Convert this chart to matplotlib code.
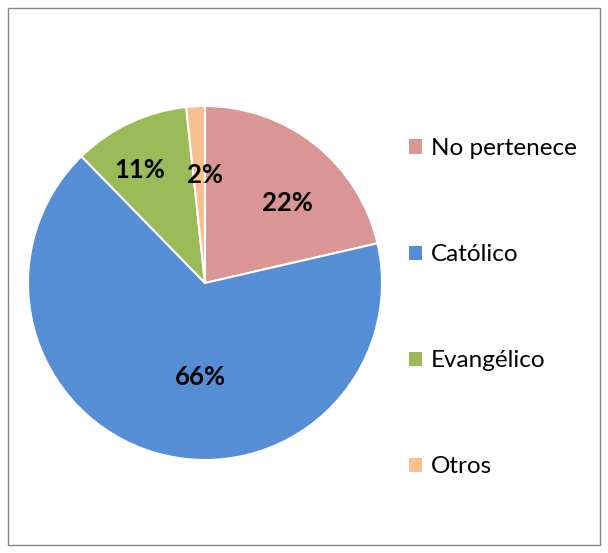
import matplotlib.pyplot as plt
import numpy as np
from matplotlib.patches import Rectangle, Patch

labels = ['No pertenece', 'Católico', 'Evangélico', 'Otros']
values = [21.4, 66.3, 10.6, 1.7]
pct_text = ['22%', '66%', '11%', '2%']
colors = ['#D99694', '#558ED5', '#9BBB59', '#FAC090']

plt.rcParams['font.family'] = ['Lato', 'DejaVu Sans']

fig = plt.figure(figsize=(6.08, 5.53), dpi=100)
fig.patches.append(Rectangle((8 / 608, 8 / 553), 592 / 608, 537 / 553,
                             transform=fig.transFigure, fill=False,
                             edgecolor='#868686', linewidth=1))

ax = fig.add_axes([28 / 608, 93 / 553, 354 / 608, 354 / 553])
wedges, _ = ax.pie(values, colors=colors, startangle=90, counterclock=False,
                   radius=1, wedgeprops=dict(edgecolor='white', linewidth=1.5))
ax.set_xlim(-1, 1)
ax.set_ylim(-1, 1)
ax.set_aspect('equal')
ax.axis('off')

# label placement (polar: angle deg, radius fraction)
label_pos = [(44, 0.65), (-93, 0.53), (120, 0.74), (90, 0.61)]
for txt, (ang, r) in zip(pct_text, label_pos):
    a = np.deg2rad(ang)
    ax.text(r * np.cos(a), r * np.sin(a), txt, ha='center', va='center',
            fontsize=18.5, fontweight='bold', color='black')

handles = [Patch(facecolor=c, edgecolor='none') for c in colors]
fig.legend(handles, labels, loc='upper left', bbox_to_anchor=(397 / 608, 1 - 126 / 553),
           frameon=False, fontsize=17.5, labelspacing=3.5, handlelength=0.52,
           handleheight=0.52, handletextpad=0.38, borderpad=0)

fig.savefig('out.png', dpi=100)
